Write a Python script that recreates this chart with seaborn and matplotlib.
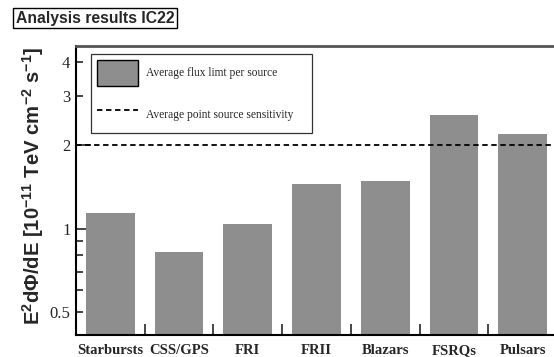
import matplotlib
matplotlib.use("Agg")
import matplotlib.pyplot as plt
import seaborn as sns
import pandas as pd
from matplotlib.patches import Patch
from matplotlib.lines import Line2D
from matplotlib.ticker import FixedLocator, FixedFormatter, NullFormatter

# Average flux limit per source class (units of 1e-11 TeV cm^-2 s^-1)
categories = ["Starbursts", "CSS/GPS", "FRI", "FRII", "Blazars", "FSRQs", "Pulsars"]
flux_limits = [1.14, 0.82, 1.04, 1.45, 1.49, 2.57, 2.19]
point_source_sensitivity = 2.0

major_ticks = [1, 2]
minor_ticks = [0.5, 0.6, 0.7, 0.8, 0.9, 3, 4]
minor_labels = ["0.5", "", "", "", "", "3", "4"]

sns.set_style("ticks")
plt.rcParams["font.family"] = ["Liberation Serif", "DejaVu Serif"]
plt.rcParams["mathtext.fontset"] = "custom"
plt.rcParams["mathtext.rm"] = "Liberation Sans:bold"
plt.rcParams["mathtext.bf"] = "Liberation Sans:bold"
plt.rcParams["mathtext.it"] = "Liberation Sans:bold"
plt.rcParams["mathtext.default"] = "rm"

df = pd.DataFrame({"source": categories, "flux": flux_limits})

fig = plt.figure(figsize=(5.54, 3.57), dpi=100)
ax = fig.add_axes([76 / 554, 1 - 335 / 357, 481 / 554, 289 / 357])

bar_color = "#8e8e8e"
sns.barplot(data=df, x="source", y="flux", color=bar_color, saturation=1,
            width=0.71, ax=ax, linewidth=0)

ax.set_yscale("log")
ax.set_ylim(0.413, 4.56)
ax.set_xlim(-0.5, len(categories) - 0.5)

ax.axhline(point_source_sensitivity, color="black", linestyle=(0, (3, 2)), linewidth=1.3)

# y axis ticks
ax.yaxis.set_major_locator(FixedLocator(major_ticks))
ax.yaxis.set_major_formatter(FixedFormatter([str(t) for t in major_ticks]))
ax.yaxis.set_minor_locator(FixedLocator(minor_ticks))
ax.yaxis.set_minor_formatter(FixedFormatter(minor_labels))
ax.tick_params(axis="y", which="major", direction="in", length=11, width=1.2,
               labelsize=12, pad=4)
ax.tick_params(axis="y", which="minor", direction="in", length=5, width=1.2,
               labelsize=12, pad=4)

# x axis: category labels centred, ticks at bin edges
ax.set_xticks(range(len(categories)))
ax.set_xticklabels(categories, fontweight="bold", fontsize=10.5)
ax.xaxis.set_minor_locator(FixedLocator([i + 0.5 for i in range(len(categories) - 1)]))
ax.xaxis.set_minor_formatter(NullFormatter())
ax.tick_params(axis="x", which="major", length=0, pad=6.5)
ax.tick_params(axis="x", which="minor", direction="in", length=8, width=1.2)

ax.set_xlabel("")
ax.set_ylabel("E$^{2}$dΦ/dE [10$^{-11}$ TeV cm$^{-2}$ s$^{-1}$]",
              fontsize=14.6, fontweight="bold", family=["Liberation Sans", "DejaVu Sans"])
ax.yaxis.set_label_coords(-0.062, 0.515)

for side in ["left", "bottom"]:
    ax.spines[side].set_color("black")
    ax.spines[side].set_linewidth(1.5)
ax.spines["top"].set_color("#555555")
ax.spines["top"].set_linewidth(2)
ax.spines["right"].set_visible(False)

handles = [
    Patch(facecolor=bar_color, edgecolor="black", linewidth=1.0),
    Line2D([0], [0], color="black", linestyle=(0, (3, 2)), linewidth=1.3),
]
labels = ["Average flux limt per source", "Average point source sensitivity"]
leg_top = 1 - 8 / 289
leg_h = 81 / 289
leg = ax.legend(handles, labels, loc="upper left", mode="expand",
                bbox_to_anchor=(15 / 481, leg_top - leg_h, 221 / 481, leg_h),
                borderaxespad=0,
                fontsize=8.3, handlelength=3.5, handleheight=3.0,
                labelspacing=1.4, handletextpad=0.75, borderpad=0.55,
                frameon=True, fancybox=False, shadow=False)
leg.get_frame().set_edgecolor("black")
leg.get_frame().set_linewidth(0.9)

fig.text(95 / 554, 1 - 18 / 357, "Analysis results IC22",
         fontsize=11.3, fontweight="bold", family=["Liberation Sans", "DejaVu Sans"],
         ha="center", va="center",
         bbox=dict(boxstyle="square,pad=0.18", facecolor="white", edgecolor="black", linewidth=1.0))

fig.savefig("out.png", dpi=100)
